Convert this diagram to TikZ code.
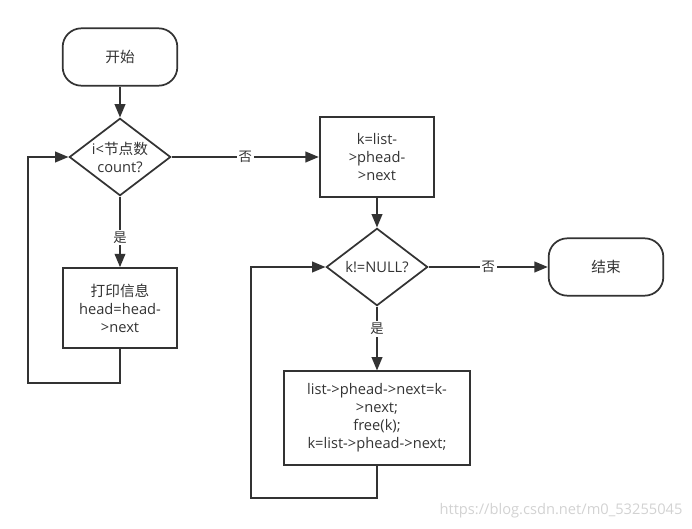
\documentclass[tikz,border=0pt]{standalone}
\usepackage{fontspec}
\setmainfont{Open Sans}
\newfontfamily\cjk{Noto Sans CJK SC}
\usepackage{tikz}
\usetikzlibrary{arrows.meta,shapes.geometric,positioning}
\definecolor{ink}{HTML}{333333}
\tikzstyle{term}=[draw, rounded corners=14pt, minimum width=86pt, minimum height=43pt]
\tikzstyle{proc}=[draw, minimum width=86pt, minimum height=60pt, align=center]
\tikzstyle{cond}=[draw, diamond, shape aspect=1.3, inner sep=0pt, minimum width=76pt, minimum height=58pt, align=center]
\tikzstyle{lbl}=[fill=white, inner sep=1.5pt, font=\cjk]

\begin{document}
\begin{tikzpicture}[x=0.75pt,y=-0.75pt,>={Triangle[length=10pt,width=8pt]},line width=1.3pt,color=ink,font=\fontsize{11}{13.5}\selectfont]
        \useasboundingbox (0,0) rectangle (692,528);
        \node [term] (start) at (120,57) {\cjk 开始};
        \node [cond] (q1) at (120,157) {i<{\cjk 节点数}\\count?};
        \node [proc] (print) at (120,308) {{\cjk 打印信息}\\head=head-\\>next};
        \node [proc] (getk) at (377,157) {k=list-\\>phead-\\>next};
        \node [cond] (q2) at (377,267) {k!=NULL?};
        \node [term] (stop) at (606,267) {\cjk 结束};
        \node [proc, minimum width=139pt, minimum height=70pt] (free) at (377,418) {list->phead->next=k-\\>next;\\free(k);\\k=list->phead->next;};
        \coordinate (loopA) at (28,383);
        \coordinate (loopB) at (251,498);

        \draw[->] (start) -- (q1);
        \draw[->] (q1) -- node[lbl, pos=0.58] {是} (print);
        \draw[->] (print.south) |- (loopA) |- (q1.west);
        \draw[->] (q1) -- node[lbl] {否} (getk);
        \draw[->] (getk) -- (q2);
        \draw[->] (q2) -- node[lbl] {否} (stop);
        \draw[->] (q2) -- node[lbl, pos=0.35] {是} (free);
        \draw[->] (free.south) |- (loopB) |- (q2.west);

        \node [text=gray!35, font=\fontsize{11}{13}\selectfont] (mark) at (561,511) {https://blog.csdn.net/m0\_53255045};
\end{tikzpicture}
\end{document}
